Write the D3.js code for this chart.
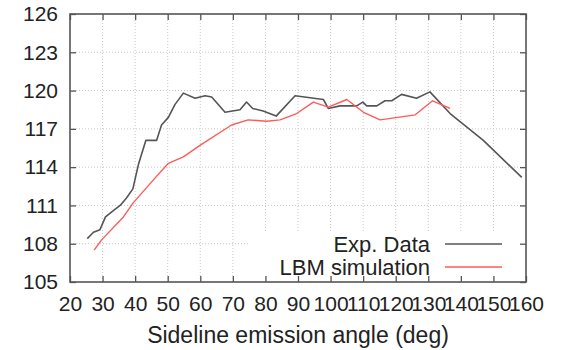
<!DOCTYPE html>
<html>
<head>
<meta charset="utf-8">
<script src="https://cdn.jsdelivr.net/npm/d3@7"></script>
<style>
  body { margin: 0; background: #fff; }
  text { font-family: 'Liberation Sans', Arial, sans-serif; fill: #222; }
  .grid line { stroke: #c8c8c8; stroke-dasharray: 1,2; }
  .line { fill: none; stroke-linejoin: round; }
</style>
</head>
<body>
<div id="chart"></div>
<script>
// sideline emission angle (deg) vs level
const expAngle = [25.3, 27.2, 29.2, 30.9, 33.3, 35.4, 37.4, 39.3, 41.0, 43.3, 46.6, 48.1, 50.2, 52.2, 54.8,
  58.4, 61.5, 63.5, 67.6, 72.2, 74.2, 76.1, 79.3, 83.3, 89.1, 97.8, 99.3, 102.9, 108.0, 109.9, 111.1,
  114.2, 116.7, 118.8, 121.8, 126.4, 130.5, 136.7, 146.9, 158.7];
const expValue = [108.4, 108.9, 109.1, 110.1, 110.6, 111.0, 111.6, 112.3, 114.2, 116.1, 116.1, 117.3, 117.9, 118.9, 119.8,
  119.4, 119.6, 119.5, 118.3, 118.5, 119.1, 118.6, 118.4, 118.0, 119.6, 119.3, 118.6, 118.8, 118.8, 119.1, 118.8,
  118.8, 119.2, 119.2, 119.7, 119.4, 119.9, 118.2, 116.1, 113.2];

const lbmAngle = [27.4, 29.7, 36.4, 39.4, 45.6, 50.2, 54.8, 59.9, 69.6, 74.7, 80.4, 84.5, 89.6, 94.7, 99.3,
  105.0, 110.1, 115.2, 126.0, 131.3, 136.7];
const lbmValue = [107.5, 108.3, 110.1, 111.2, 113.0, 114.3, 114.8, 115.7, 117.3, 117.7, 117.6, 117.7, 118.2, 119.1, 118.7,
  119.3, 118.3, 117.7, 118.1, 119.2, 118.6];

const xTicks = d3.range(20, 161, 10);
const yTicks = [105, 108, 111, 114, 117, 120, 123, 126];
const seriesNames = ['Exp. Data', 'LBM simulation'];
const xTitle = 'Sideline emission angle (deg)';

const margin = { top: 14, right: 40, bottom: 68, left: 70 };
const W = 566, H = 350;
const width = W - margin.left - margin.right;
const height = H - margin.top - margin.bottom;

const svg = d3.select('#chart').append('svg')
  .attr('width', W)
  .attr('height', H);

const g = svg.append('g').attr('transform', `translate(${margin.left},${margin.top})`);

const x = d3.scaleLinear().domain([20, 160]).range([0, width]);
const y = d3.scaleLinear().domain([105, 126]).range([height, 0]);

// dotted grid
g.append('g').attr('class', 'grid')
  .selectAll('line').data(xTicks.slice(1, -1)).enter().append('line')
  .attr('x1', d => x(d)).attr('x2', d => x(d))
  .attr('y1', 0).attr('y2', height);
g.append('g').attr('class', 'grid')
  .selectAll('line').data(yTicks.slice(1, -1)).enter().append('line')
  .attr('x1', 0).attr('x2', width)
  .attr('y1', d => y(d)).attr('y2', d => y(d));

const series = [
  { name: seriesNames[0], color: '#555555', width: 1.6, values: expAngle.map((a, i) => ({ a, v: expValue[i] })) },
  { name: seriesNames[1], color: '#ff5a5a', width: 1.4, values: lbmAngle.map((a, i) => ({ a, v: lbmValue[i] })) },
];

const line = d3.line()
  .x(d => x(d.a))
  .y(d => y(d.v));

// legend box covers the grid at the lower right
const legendTop = 219;
g.append('rect')
  .attr('x', 180).attr('y', legendTop)
  .attr('width', width - 180).attr('height', height - legendTop)
  .attr('fill', '#fff');

g.selectAll('.series')
  .data(series)
  .enter()
  .append('path')
  .attr('class', 'line')
  .attr('d', d => line(d.values))
  .style('stroke', d => d.color)
  .style('stroke-width', d => d.width);

// axes: inward ticks, mirrored on top and right
const tickLen = 6;
g.append('g')
  .attr('transform', `translate(0,${height})`)
  .call(d3.axisBottom(x).tickValues(xTicks).tickSizeInner(-tickLen).tickSizeOuter(0).tickPadding(14))
  .call(a => a.selectAll('text').attr('font-size', 21).attr('dy', '0.71em'));
g.append('g')
  .call(d3.axisTop(x).tickValues(xTicks).tickSizeInner(-tickLen).tickSizeOuter(0).tickFormat(''));
g.append('g')
  .call(d3.axisLeft(y).tickValues(yTicks).tickSizeInner(-tickLen).tickSizeOuter(0).tickPadding(12))
  .call(a => a.selectAll('text').attr('font-size', 21));
g.append('g')
  .attr('transform', `translate(${width},0)`)
  .call(d3.axisRight(y).tickValues(yTicks).tickSizeInner(-tickLen).tickSizeOuter(0).tickFormat(''));

g.selectAll('.domain').remove();
g.selectAll('.tick line').attr('stroke', '#555').attr('stroke-width', 1.3);
g.selectAll('.tick text').attr('fill', '#222');

g.append('rect')
  .attr('width', width).attr('height', height)
  .attr('fill', 'none')
  .attr('stroke', '#555')
  .attr('stroke-width', 1.6);

// legend
const legend = g.selectAll('.legend')
  .data(series)
  .enter()
  .append('g')
  .attr('transform', (d, i) => `translate(0,${230 + i * 23})`);
legend.append('text')
  .attr('x', 360)
  .attr('dy', '0.35em')
  .attr('text-anchor', 'end')
  .attr('font-size', 22)
  .text(d => d.name);
legend.append('line')
  .attr('x1', 375).attr('x2', 432)
  .style('stroke', d => d.color)
  .style('stroke-width', d => d.width);

// axis title
svg.append('text')
  .attr('x', margin.left + width / 2)
  .attr('y', 343)
  .attr('text-anchor', 'middle')
  .attr('font-size', 23)
  .text(xTitle);
</script>
</body>
</html>
